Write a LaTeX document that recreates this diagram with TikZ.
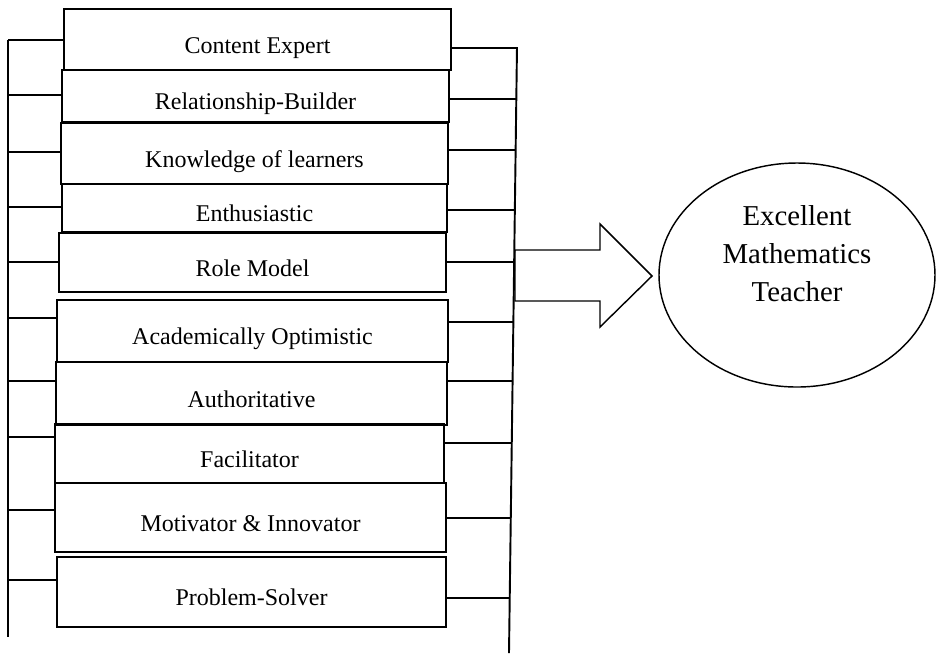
\documentclass[tikz,border=0pt]{standalone}
\usepackage{fontspec}
\setmainfont{Liberation Serif}
\usetikzlibrary{calc,shapes.geometric}
\def\pxu{0.4167pt}
\tikzset{
  trait/.style 2 args={draw, line width=0.8pt, inner sep=0pt,
    minimum width=#1*\pxu, minimum height=#2*\pxu,
    text height=11.6pt, text depth=0pt,
    font=\fontsize{10}{12}\selectfont},
  spine/.style={line width=0.8pt},
  tick/.style={line width=0.8pt},
  goal/.style={draw, ellipse, line width=0.6pt, inner sep=0pt,
    minimum width=276*\pxu, minimum height=224*\pxu},
  pointer/.style={draw, line width=0.6pt, line join=miter}
}
\begin{document}
\begin{tikzpicture}[x=\pxu,y=-\pxu]
\useasboundingbox (0,0) rectangle (938,656);

% the ten traits
\node[trait={387}{61}](b1) at (257.5,39.5){Content Expert};
\node[trait={387}{52}](b2) at (255.5,96){Relationship-Builder};
\node[trait={387}{61}](b3) at (254.5,153.5){Knowledge of learners};
\node[trait={385}{48}](b4) at (254.5,208){Enthusiastic};
\node[trait={387}{59}](b5) at (252.5,262.5){Role Model};
\node[trait={391}{62}](b6) at (252.5,331){Academically Optimistic};
\node[trait={391}{63}](b7) at (251.5,393.5){Authoritative};
\node[trait={389}{59}](b8) at (249.5,453.5){Facilitator};
\node[trait={391}{69}](b9) at (250.5,517.5){Motivator \& Innovator};
\node[trait={389}{70}](b10) at (251.5,592){Problem-Solver};

% the two bars
\coordinate (lt) at (8,40);
\coordinate (lb) at (8,637);
\coordinate (rt) at (517,47);
\coordinate (rb) at (509,653);
\draw[spine] (lt) -- (lb);
\draw[spine] (rt) -- (rb);

\foreach \n/\l/\r in {1/40/48, 2/95/99, 3/152/150, 4/207/210, 5/262/262,
  6/318/322, 7/381/381, 8/437/443, 9/510/518, 10/580/598}{
  \draw[tick] (lt |- 0,\l) -- (b\n.west |- 0,\l);
  \draw[tick] (b\n.east |- 0,\r) -- ($(rt)!{(\r-47)/606}!(rb)$);
}

% the goal
\node[goal](goal) at (797,275){};
\node[font=\fontsize{12}{15.8}\selectfont, align=center](gtext) at ([yshift=9pt]goal.center){Excellent\\Mathematics\\Teacher};

\coordinate (tail) at (515,250);
\draw[pointer] (tail) -- ++(85,0) -- ++(0,-26) -- ++(52,52) -- ++(-52,51)
  -- ++(0,-26) -- ++(-85,0) -- cycle;
\end{tikzpicture}
\end{document}
